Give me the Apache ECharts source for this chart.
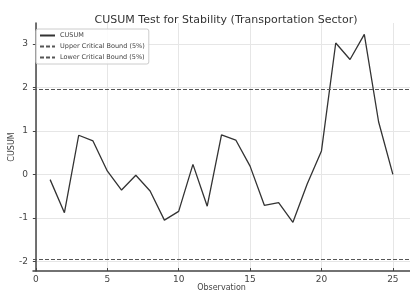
<!DOCTYPE html>
<html>
<head>
<meta charset="utf-8">
<script src="https://cdn.jsdelivr.net/npm/echarts@6/dist/echarts.min.js"></script>
<style>html,body{margin:0;padding:0;background:#fff}#c{width:410px;height:293px}</style>
</head>
<body>
<div id="c"></div>
<script>
var observations = [1,2,3,4,5,6,7,8,9,10,11,12,13,14,15,16,17,18,19,20,21,22,23,24,25];
var cusum = [-0.12,-0.88,0.90,0.77,0.08,-0.36,-0.02,-0.38,-1.05,-0.85,0.23,-0.73,0.91,0.79,0.19,-0.71,-0.65,-1.10,-0.22,0.54,3.02,2.64,3.22,1.21,0.00];
var upperBound = 1.96;
var lowerBound = -1.96;

var chart = echarts.init(document.getElementById('c'));
var font = 'DejaVu Sans';
chart.setOption({
  animation: false,
  backgroundColor: '#fff',
  title: {
    text: 'CUSUM Test for Stability (Transportation Sector)',
    left: 221, top: 10, textAlign: 'center',
    textStyle: {fontFamily: font, fontSize: 11, fontWeight: 'normal', color: '#333'}
  },
  legend: {
    orient: 'vertical', left: 36, top: 29,
    itemWidth: 15, itemHeight: 6, itemGap: 4,
    padding: [3, 4, 3, 3],
    borderColor: '#ccc', borderWidth: 1, borderRadius: 2,
    backgroundColor: 'rgba(255,255,255,0.85)',
    itemStyle: {opacity: 0},
    textStyle: {fontFamily: font, fontSize: 6.5, color: '#444'},
    data: ['CUSUM', 'Upper Critical Bound (5%)', 'Lower Critical Bound (5%)']
  },
  grid: {left: 33, right: 0, top: 23, bottom: 22, outerBoundsMode: 'none', containLabel: false},
  xAxis: {
    type: 'value', min: -0.2, max: 26.2, splitNumber: 5,
    name: 'Observation', nameLocation: 'middle', nameGap: 13, nameMoveOverlap: false,
    nameTextStyle: {fontFamily: font, fontSize: 8, color: '#444'},
    axisLine: {onZero: false, lineStyle: {color: '#444', width: 1.5}},
    axisTick: {inside: true, length: 3, lineStyle: {color: '#444'}},
    axisLabel: {fontFamily: font, fontSize: 9, color: '#444', margin: 4, showMinLabel: false, showMaxLabel: false},
    splitLine: {show: true, showMinLine: false, showMaxLine: false, lineStyle: {color: '#e6e6e6', width: 1}}
  },
  yAxis: {
    type: 'value', min: -2.22, max: 3.48, splitNumber: 5,
    name: 'CUSUM', nameLocation: 'middle', nameGap: 17, nameMoveOverlap: false,
    nameTextStyle: {fontFamily: font, fontSize: 8, color: '#444'},
    axisLine: {show: true, lineStyle: {color: '#444', width: 1.5}},
    axisTick: {show: true, inside: false, length: 3, lineStyle: {color: '#444'}},
    axisLabel: {fontFamily: font, fontSize: 9, color: '#444', margin: 5, showMinLabel: false, showMaxLabel: false},
    splitLine: {show: true, showMinLine: false, showMaxLine: false, lineStyle: {color: '#e6e6e6', width: 1}}
  },
  series: [
    {
      name: 'CUSUM', type: 'line', symbol: 'none',
      data: observations.map(function(x, i){ return [x, cusum[i]]; }),
      lineStyle: {color: '#333', width: 1.3}, itemStyle: {color: '#333'}
    },
    {
      name: 'Upper Critical Bound (5%)', type: 'line', symbol: 'none', data: [],
      lineStyle: {color: '#555', width: 1, type: [4, 2]}, itemStyle: {color: '#555'},
      markLine: {silent: true, symbol: 'none', label: {show: false},
        lineStyle: {color: '#555', width: 1, type: [4, 2]},
        data: [{yAxis: upperBound}]}
    },
    {
      name: 'Lower Critical Bound (5%)', type: 'line', symbol: 'none', data: [],
      lineStyle: {color: '#555', width: 1, type: [4, 2]}, itemStyle: {color: '#555'},
      markLine: {silent: true, symbol: 'none', label: {show: false},
        lineStyle: {color: '#555', width: 1, type: [4, 2]},
        data: [{yAxis: lowerBound}]}
    }
  ]
});
</script>
</body>
</html>
